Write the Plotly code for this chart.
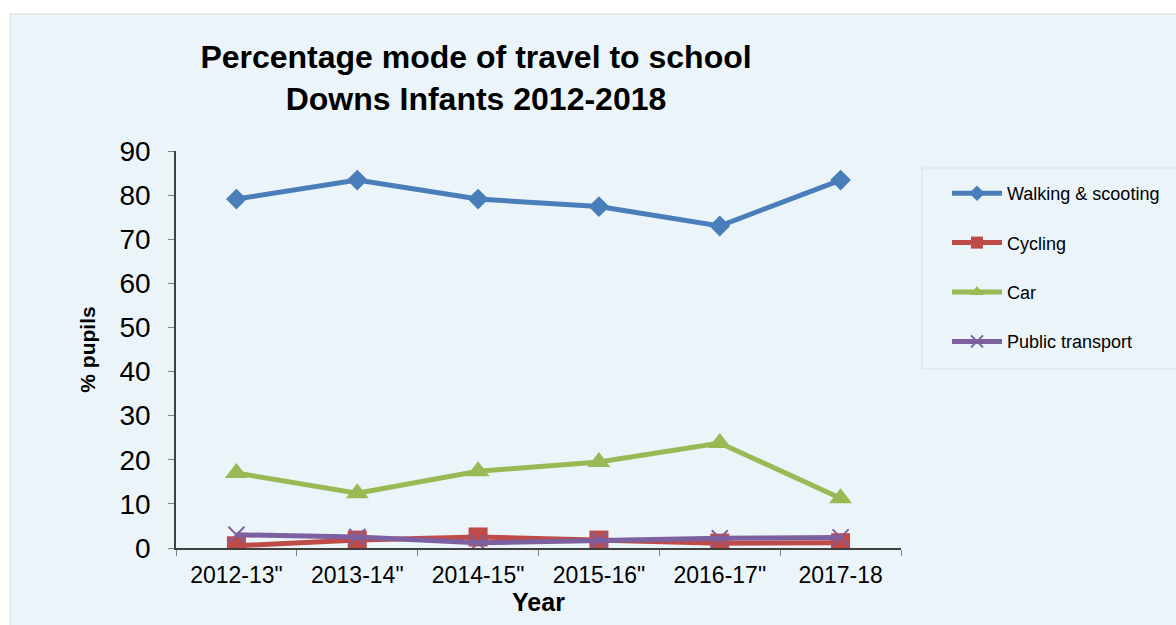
import plotly.graph_objects as go

years = ['2012-13"', '2013-14"', '2014-15"', '2015-16"', '2016-17"', '2017-18']
walking = [79.1, 83.4, 79.1, 77.4, 73.0, 83.4]
cycling = [0.5, 1.8, 2.5, 1.8, 1.1, 1.2]
car = [17.0, 12.4, 17.4, 19.5, 23.8, 11.3]
public = [3.0, 2.5, 1.2, 1.8, 2.2, 2.4]

series = [
    ("Walking & scooting", walking, "#4A7EBB", "diamond", 16, 0),
    ("Cycling", cycling, "#BE4B48", "square", 19, 0),
    ("Car", car, "#98B954", "triangle-up", 20, 0),
    ("Public transport", public, "#7D60A0", "x-thin", 16, 2),
]

W, H = 1176, 625
L, R, T, B = 176, 902, 151, 548

def px(x):
    return (x - L) / (R - L)

def py(y):
    return (B - y) / (B - T)

fig = go.Figure()
for i, (name, vals, col, sym, size, lw) in enumerate(series):
    marker = dict(symbol=sym, size=size, color=col)
    if lw:
        marker["line"] = dict(color=col, width=lw)
    fig.add_trace(go.Scatter(
        x=years, y=vals, name=name, mode="lines+markers",
        line=dict(color=col, width=5), marker=marker,
        legendgroup=f"g{i}",
    ))

# chart background
fig.add_shape(type="rect", xref="paper", yref="paper",
              x0=px(10), x1=px(1180), y0=py(630), y1=py(14),
              fillcolor="#EBF4F8", line=dict(color="#D9D9D9", width=1),
              layer="below")
# legend frame
fig.add_shape(type="rect", xref="paper", yref="paper",
              x0=px(923), x1=px(1180), y0=py(369), y1=py(168),
              fillcolor="rgba(0,0,0,0)", line=dict(color="#D6E3EA", width=1),
              layer="below")

fig.update_layout(
    width=W, height=H,
    margin=dict(l=L, r=W - R, t=T, b=H - B, pad=0),
    paper_bgcolor="white",
    plot_bgcolor="rgba(0,0,0,0)",
    font=dict(family="Liberation Sans, Arial, sans-serif", color="black"),
    title=dict(
        text="<b>Percentage mode of travel to school<br>Downs Infants 2012-2018</b>",
        font=dict(size=32, color="black"),
        x=476 / W, xanchor="center", xref="container",
        y=1 - 68 / H, yanchor="top", yref="container",
    ),
    showlegend=True,
    legend=dict(
        x=px(947), y=py(175), xanchor="left", yanchor="top",
        xref="paper", yref="paper",
        bgcolor="rgba(0,0,0,0)", borderwidth=0,
        font=dict(size=18, color="black"),
        tracegroupgap=23, itemsizing="constant", itemwidth=50,
    ),
    xaxis=dict(
        type="category", showgrid=False, zeroline=False,
        showline=True, linecolor="#404040", linewidth=1.5,
        ticks="outside", tickson="boundaries", ticklen=6, tickcolor="#808080",
        tickfont=dict(size=23, color="black"),
        ticklabelstandoff=6,
        title=dict(text="<b>Year</b>", font=dict(size=25), standoff=4),
        range=[-0.5, 5.5],
    ),
    yaxis=dict(
        range=[0, 90], dtick=10, showgrid=False, zeroline=False,
        showline=True, linecolor="#404040", linewidth=1.5,
        ticks="outside", ticklen=6, tickcolor="#808080",
        tickfont=dict(size=28, color="black"),
        ticklabelstandoff=12,
        title=dict(text="<b>% pupils</b>", font=dict(size=21), standoff=18),
    ),
)

fig.write_html("out.html", config={"displayModeBar": False},
               post_script="document.body.style.margin='0';")
